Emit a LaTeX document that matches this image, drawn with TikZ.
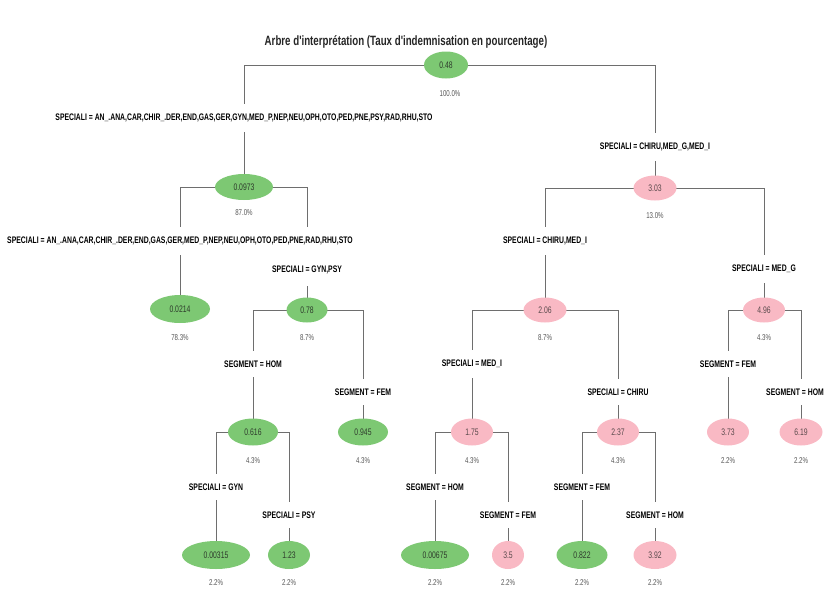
\documentclass[tikz,border=0pt]{standalone}
\usepackage{fontspec}
\setmainfont{Liberation Sans}
\newfontfamily\nar[FakeStretch=0.72]{Liberation Sans}
\usetikzlibrary{shapes.geometric,backgrounds}
\definecolor{gfill}{HTML}{7DC873}
\definecolor{pfill}{HTML}{F9B9C4}
\definecolor{gtext}{HTML}{2E3B2C}
\definecolor{ptext}{HTML}{5A4A4C}
\definecolor{lncol}{HTML}{6E6E6E}
\definecolor{pctcol}{HTML}{555555}
\tikzset{
  leafg/.style={ellipse, fill=gfill, draw=none, inner sep=0pt, text=gtext, font=\nar\fontsize{9.5}{10}\selectfont},
  leafp/.style={ellipse, fill=pfill, draw=none, inner sep=0pt, text=ptext, font=\nar\fontsize{9.5}{10}\selectfont},
  pct/.style={inner sep=0pt, text=pctcol, font=\nar\fontsize{8.5}{9}\selectfont},
  cond/.style={fill=white, inner xsep=2pt, inner ysep=10pt, text=black, font=\nar\bfseries\fontsize{9.5}{10}\selectfont},
  ttl/.style={inner sep=0pt, text=black!85, font=\nar\bfseries\fontsize{13.5}{14}\selectfont},
  ln/.style={draw=lncol, line width=0.9pt}
}
\newcommand\halfsplit[3]{%
  \draw[ln] (#1.center) -| (#2.center);
  \draw[ln] (#2.center) -- (#3.center);
}
\newcommand\splitlines[5]{%
  \halfsplit{#1}{#2}{#3}
  \halfsplit{#1}{#4}{#5}
}
\begin{document}
\begin{tikzpicture}[x=1pt,y=-1pt]
\useasboundingbox (0,0) rectangle (826,589);
\node[ttl] (title) at (406,42) {Arbre d'interprétation (Taux d'indemnisation en pourcentage)};

% inner nodes and leaves
\node[leafg, minimum width=44pt, minimum height=27pt] (root) at (446,65) {0.48};
\node[pct] (proot) at (450,94) {100.0\%};
\node[leafg, minimum width=58pt, minimum height=26pt] (n2) at (244,187) {0.0973};
\node[pct] (p2) at (244,213) {87.0\%};
\node[leafp, minimum width=43pt, minimum height=25pt] (n3) at (655,188) {3.03};
\node[pct] (p3) at (655,216) {13.0\%};
\node[leafg, minimum width=60pt, minimum height=28pt] (n4) at (180,309) {0.0214};
\node[pct] (p4) at (180,338) {78.3\%};
\node[leafg, minimum width=41pt, minimum height=25pt] (n5) at (307,310) {0.78};
\node[pct] (p5) at (307,338) {8.7\%};
\node[leafp, minimum width=43pt, minimum height=25pt] (n6) at (545,310) {2.06};
\node[pct] (p6) at (545,338) {8.7\%};
\node[leafp, minimum width=42pt, minimum height=25pt] (n7) at (764,310) {4.96};
\node[pct] (p7) at (764,338) {4.3\%};
\node[leafg, minimum width=50pt, minimum height=27pt] (n8) at (253,432) {0.616};
\node[pct] (p8) at (253,461) {4.3\%};
\node[leafg, minimum width=50pt, minimum height=27pt] (n9) at (363,432) {0.945};
\node[pct] (p9) at (363,461) {4.3\%};
\node[leafp, minimum width=42pt, minimum height=27pt] (n10) at (472,432) {1.75};
\node[pct] (p10) at (472,461) {4.3\%};
\node[leafp, minimum width=42pt, minimum height=27pt] (n11) at (618,432) {2.37};
\node[pct] (p11) at (618,461) {4.3\%};
\node[leafp, minimum width=42pt, minimum height=27pt] (n12) at (728,432) {3.73};
\node[pct] (p12) at (728,461) {2.2\%};
\node[leafp, minimum width=43pt, minimum height=27pt] (n13) at (801,432) {6.19};
\node[pct] (p13) at (801,461) {2.2\%};
\node[leafg, minimum width=68pt, minimum height=28pt] (n14) at (216,555) {0.00315};
\node[pct] (p14) at (216,583) {2.2\%};
\node[leafg, minimum width=42pt, minimum height=28pt] (n15) at (289,555) {1.23};
\node[pct] (p15) at (289,583) {2.2\%};
\node[leafg, minimum width=68pt, minimum height=28pt] (n16) at (435,555) {0.00675};
\node[pct] (p16) at (435,583) {2.2\%};
\node[leafp, minimum width=32pt, minimum height=28pt] (n17) at (508,555) {3.5};
\node[pct] (p17) at (508,583) {2.2\%};
\node[leafg, minimum width=51pt, minimum height=28pt] (n18) at (582,555) {0.822};
\node[pct] (p18) at (582,583) {2.2\%};
\node[leafp, minimum width=43pt, minimum height=28pt] (n19) at (655,555) {3.92};
\node[pct] (p19) at (655,583) {2.2\%};

% split conditions
\node[cond] (c1L) at (244,118) {SPECIALI = AN\_.ANA,CAR,CHIR\_.DER,END,GAS,GER,GYN,MED\_P,NEP,NEU,OPH,OTO,PED,PNE,PSY,RAD,RHU,STO};
\node[cond] (c1R) at (655,147) {SPECIALI = CHIRU,MED\_G,MED\_I};
\node[cond] (c2L) at (180,241) {SPECIALI = AN\_.ANA,CAR,CHIR\_.DER,END,GAS,GER,MED\_P,NEP,NEU,OPH,OTO,PED,PNE,RAD,RHU,STO};
\node[cond, inner ysep=12pt] (c2R) at (307,270) {SPECIALI = GYN,PSY};
\node[cond] (c3L) at (545,241) {SPECIALI = CHIRU,MED\_I};
\node[cond] (c3R) at (764,269) {SPECIALI = MED\_G};
\node[cond] (c5L) at (253,364) {SEGMENT = HOM};
\node[cond] (c5R) at (363,392) {SEGMENT = FEM};
\node[cond] (c6L) at (472,364) {SPECIALI = MED\_I};
\node[cond] (c6R) at (618,392) {SPECIALI = CHIRU};
\node[cond] (c7L) at (728,364) {SEGMENT = FEM};
\node[cond] (c7R) at (795,392) {SEGMENT = HOM};
\node[cond] (c8L) at (216,487) {SPECIALI = GYN};
\node[cond] (c8R) at (289,515) {SPECIALI = PSY};
\node[cond] (c10L) at (435,487) {SEGMENT = HOM};
\node[cond] (c10R) at (508,515) {SEGMENT = FEM};
\node[cond] (c11L) at (582,487) {SEGMENT = FEM};
\node[cond] (c11R) at (655,515) {SEGMENT = HOM};

\begin{scope}[on background layer]
\splitlines{root}{c1L}{n2}{c1R}{n3}
\splitlines{n2}{c2L}{n4}{c2R}{n5}
\splitlines{n3}{c3L}{n6}{c3R}{n7}
\splitlines{n5}{c5L}{n8}{c5R}{n9}
\splitlines{n6}{c6L}{n10}{c6R}{n11}
\halfsplit{n7}{c7L}{n12}
\draw[ln] (n7.center) -| (n13.center);
\splitlines{n8}{c8L}{n14}{c8R}{n15}
\splitlines{n10}{c10L}{n16}{c10R}{n17}
\splitlines{n11}{c11L}{n18}{c11R}{n19}
\end{scope}
\end{tikzpicture}
\end{document}
